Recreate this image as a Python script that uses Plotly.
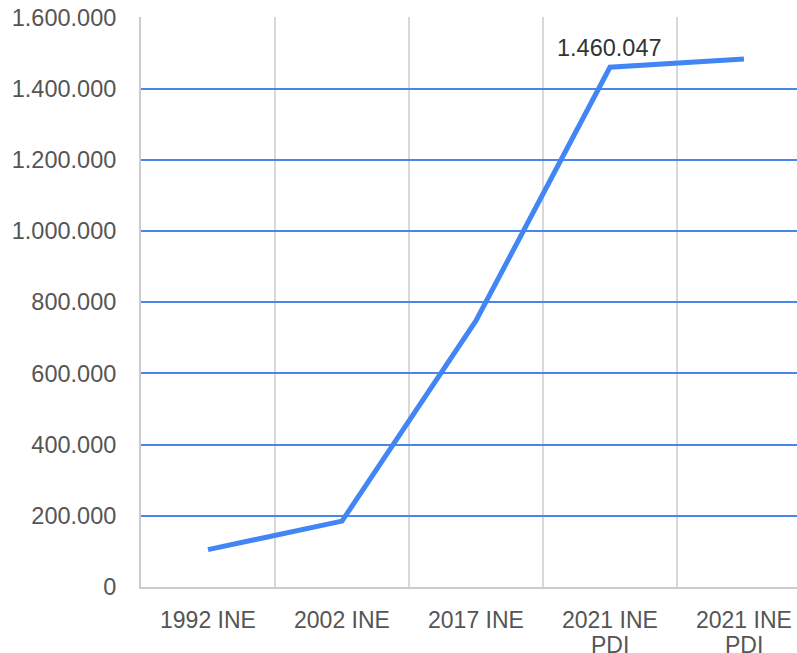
import plotly.graph_objects as go

categories = ["1992 INE", "2002 INE", "2017 INE", "2021 INE", "2021 INE"]
category_sublabels = ["", "", "", "PDI", "PDI"]
cat_keys = ["c1", "c2", "c3", "c4", "c5"]
values = [105000, 185000, 748000, 1460047, 1483000]
y_ticks = [0, 200000, 400000, 600000, 800000, 1000000, 1200000, 1400000, 1600000]
label_index = 3
label_text = "1.460.047"

font_family = "Liberation Sans, Arial, sans-serif"

fig = go.Figure()
fig.add_trace(go.Scatter(
    x=cat_keys, y=values, mode="lines",
    line=dict(color="#4285F4", width=5),
    hoverinfo="skip", showlegend=False,
))
fig.add_annotation(
    x=cat_keys[label_index], y=values[label_index], text=label_text,
    showarrow=False, yanchor="bottom", yshift=4,
    font=dict(family=font_family, size=23.5, color="#333333"),
)
for key, sub in zip(cat_keys, category_sublabels):
    if sub:
        fig.add_annotation(
            x=key, xref="x", y=0, yref="paper", text=sub,
            showarrow=False, yanchor="middle", yshift=-58,
            font=dict(family=font_family, size=23, color="#555555"),
        )
fig.update_layout(
    width=797, height=653,
    margin=dict(l=141, r=0, t=17, b=66, autoexpand=False),
    plot_bgcolor="white", paper_bgcolor="white",
    separators=",.",
    font=dict(family=font_family, size=23.5, color="#555555"),
)
fig.update_xaxes(
    type="category", categoryorder="array", categoryarray=cat_keys,
    tickvals=cat_keys, ticktext=categories,
    range=[-0.5, 4.396], automargin=False,
    tickson="boundaries", showgrid=True, gridcolor="#d9d9d9", gridwidth=2,
    showline=True, linecolor="#cccccc", linewidth=2,
    ticks="", ticklabelstandoff=11, ticklabeloverflow="allow",
    tickfont=dict(family=font_family, size=23, color="#555555"),
)
fig.update_yaxes(
    range=[0, 1601200], tickvals=y_ticks, tickformat=",d", automargin=False,
    showgrid=True, gridcolor="#4a86e8", gridwidth=1.5,
    zeroline=False, showline=True, linecolor="#cccccc", linewidth=2,
    ticks="", ticklabelstandoff=18, ticklabeloverflow="allow",
    tickfont=dict(family=font_family, size=23.5, color="#555555"),
)
fig.write_html(
    "out.html",
    config={"displayModeBar": False},
    post_script="document.body.style.margin='0';document.body.style.overflow='hidden';",
)
